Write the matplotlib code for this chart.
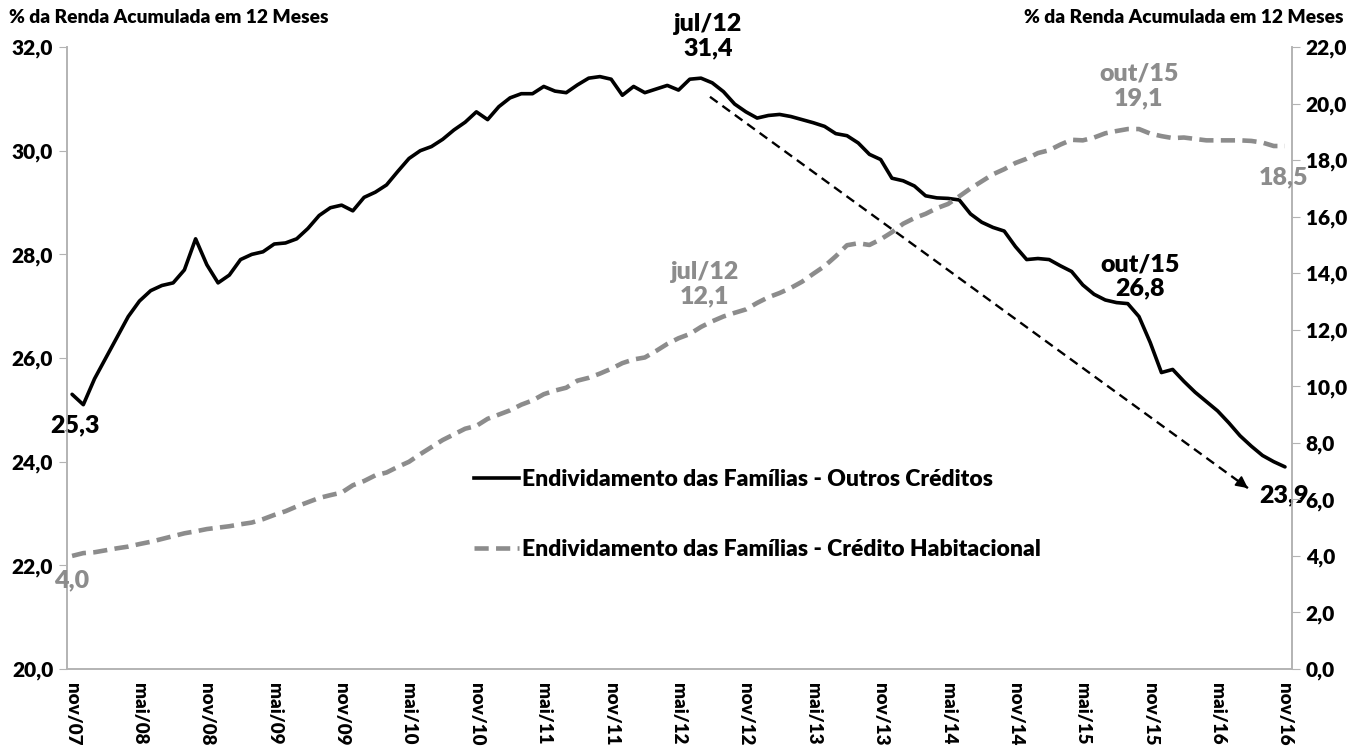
import numpy as np
import matplotlib
matplotlib.use("Agg")
import matplotlib.pyplot as plt
from matplotlib.ticker import FuncFormatter, MultipleLocator

WEIGHT = 'heavy'
plt.rcParams['font.family'] = ['Lato', 'DejaVu Sans']
plt.rcParams['font.weight'] = WEIGHT

# monthly series, nov/07 .. nov/16
MESES = ["jan", "fev", "mar", "abr", "mai", "jun", "jul", "ago", "set", "out", "nov", "dez"]
months = [f"{MESES[(10 + k) % 12]}/{(7 + (10 + k) // 12):02d}" for k in range(109)]

outros = [25.3, 25.1, 25.6, 26.0, 26.4, 26.8, 27.1, 27.3, 27.4, 27.45,
          27.7, 28.3, 27.8, 27.45, 27.6, 27.9, 28.0, 28.05, 28.2, 28.22,
          28.3, 28.5, 28.75, 28.9, 28.95, 28.84, 29.1, 29.2, 29.34, 29.6,
          29.85, 30.0, 30.08, 30.22, 30.4, 30.55, 30.75, 30.6, 30.85, 31.02,
          31.1, 31.1, 31.24, 31.15, 31.12, 31.27, 31.4, 31.43, 31.38, 31.07,
          31.24, 31.12, 31.19, 31.26, 31.17, 31.38, 31.4, 31.31, 31.14, 30.9,
          30.75, 30.63, 30.68, 30.7, 30.66, 30.6, 30.54, 30.47, 30.33, 30.29,
          30.15, 29.93, 29.83, 29.47, 29.42, 29.32, 29.13, 29.09, 29.08, 29.05,
          28.78, 28.62, 28.52, 28.45, 28.15, 27.9, 27.92, 27.9, 27.78, 27.67,
          27.41, 27.23, 27.12, 27.07, 27.05, 26.8, 26.3, 25.72, 25.78, 25.55,
          25.34, 25.16, 24.98, 24.75, 24.5, 24.3, 24.12, 24.0, 23.9]

habitacional = [4.0, 4.1, 4.13, 4.2, 4.27, 4.33, 4.42, 4.5, 4.6, 4.7,
                4.8, 4.87, 4.95, 5.0, 5.05, 5.12, 5.18, 5.3, 5.45, 5.58,
                5.75, 5.9, 6.05, 6.15, 6.24, 6.5, 6.65, 6.85, 6.95, 7.15,
                7.33, 7.6, 7.85, 8.1, 8.3, 8.5, 8.6, 8.85, 9.0, 9.15,
                9.35, 9.5, 9.72, 9.85, 9.95, 10.2, 10.3, 10.45, 10.62, 10.82,
                10.95, 11.02, 11.25, 11.5, 11.7, 11.85, 12.1, 12.3, 12.47, 12.6,
                12.72, 12.95, 13.15, 13.3, 13.48, 13.7, 13.98, 14.25, 14.6, 14.99,
                15.06, 15.0, 15.2, 15.45, 15.75, 15.95, 16.1, 16.3, 16.45, 16.72,
                17.0, 17.25, 17.5, 17.68, 17.9, 18.05, 18.25, 18.35, 18.55, 18.72,
                18.7, 18.8, 18.95, 19.03, 19.1, 19.1, 18.94, 18.85, 18.78, 18.8,
                18.75, 18.7, 18.7, 18.7, 18.7, 18.68, 18.62, 18.5, 18.5]

# trend arrow (month index, left-axis value)
trend_start = (56.8, 31.04)
trend_end = (104.7, 23.49)

BLACK = "#000000"
GRAY = "#8c8c8c"
AXIS = "#b3b3b3"

x = np.arange(len(months))

fig = plt.figure(figsize=(13.54, 7.47), dpi=100)
ax = fig.add_axes([0.0495, 0.1044, 0.9045, 0.8326])
ax2 = ax.twinx()

ax.plot(x, outros, color=BLACK, lw=2.6, solid_joinstyle='round',
        solid_capstyle='round', zorder=3)
ax2.plot(x, habitacional, color=GRAY, lw=3.3, dashes=(3.1, 1.6), zorder=3)

# dashed trend arrow
ax.plot([trend_start[0], trend_end[0]], [trend_start[1], trend_end[1]],
        color=BLACK, lw=1.7, dashes=(4, 2.5), zorder=4)
ax.annotate("", xy=trend_end, xytext=(trend_end[0] - 0.9, trend_end[1] + 0.147),
            arrowprops=dict(arrowstyle="-|>", color=BLACK, lw=1.2,
                            mutation_scale=18, shrinkA=0, shrinkB=0))

ax.set_xlim(-0.45, 108.6)
ax.set_ylim(20, 32)
ax2.set_ylim(0, 22)
ax.yaxis.set_major_locator(MultipleLocator(2))
ax2.yaxis.set_major_locator(MultipleLocator(2))
fmt = FuncFormatter(lambda v, p: f"{v:.1f}".replace(".", ","))
ax.yaxis.set_major_formatter(fmt)
ax2.yaxis.set_major_formatter(fmt)

ax.set_xticks(x[::6])
ax.set_xticklabels(months[::6], rotation=270, fontsize=13.5, fontweight=WEIGHT)
ax.tick_params(axis='x', length=0, pad=10)
ax.tick_params(axis='y', labelsize=15, length=6, color=AXIS, pad=4)
ax2.tick_params(axis='y', labelsize=15, length=6, color=AXIS, pad=4)

for a in (ax, ax2):
    a.spines['top'].set_visible(False)
    for s in ('left', 'right', 'bottom'):
        a.spines[s].set_color(AXIS)
        a.spines[s].set_linewidth(1.2)

fig.text(0.007, 0.977, "% da Renda Acumulada em 12 Meses", fontsize=13.8,
         fontweight=WEIGHT, ha='left', va='center')
fig.text(0.992, 0.977, "% da Renda Acumulada em 12 Meses", fontsize=13.8,
         fontweight=WEIGHT, ha='right', va='center')

# point labels
lab = dict(textcoords='offset pixels', ha='center', va='center',
           fontsize=18, fontweight=WEIGHT, linespacing=1.12, annotation_clip=False)
ax.annotate("25,3", (0, outros[0]), xytext=(3, -31), color=BLACK, **lab)
ax.annotate("jul/12\n31,4", (56, outros[56]), xytext=(7, 42), color=BLACK, **lab)
ax.annotate("out/15\n26,8", (95, outros[95]), xytext=(1, 40), color=BLACK, **lab)
ax.annotate("23,9", (108, outros[108]), xytext=(-1, -28), color=BLACK, **lab)
ax2.annotate("4,0", (0, habitacional[0]), xytext=(0, -24), color=GRAY, **lab)
ax2.annotate("jul/12\n12,1", (56, habitacional[56]), xytext=(4, 43), color=GRAY, **lab)
ax2.annotate("out/15\n19,1", (95, habitacional[95]), xytext=(0, 43), color=GRAY, **lab)
ax2.annotate("18,5", (108, habitacional[108]), xytext=(-1, -31), color=GRAY, **lab)

h1 = plt.Line2D([], [], color=BLACK, lw=2.6)
h2 = plt.Line2D([], [], color=GRAY, lw=3.3, dashes=(3.1, 1.6))
leg = ax2.legend([h1, h2],
                 ["Endividamento das Famílias - Outros Créditos",
                  "Endividamento das Famílias - Crédito Habitacional"],
                 loc='center left', bbox_to_anchor=(0.325, 0.249), frameon=False,
                 prop=dict(size=16.5, weight=WEIGHT), handlelength=1.97,
                 handletextpad=0.1, labelspacing=2.14, borderaxespad=0)

fig.savefig("out.png", dpi=100)
